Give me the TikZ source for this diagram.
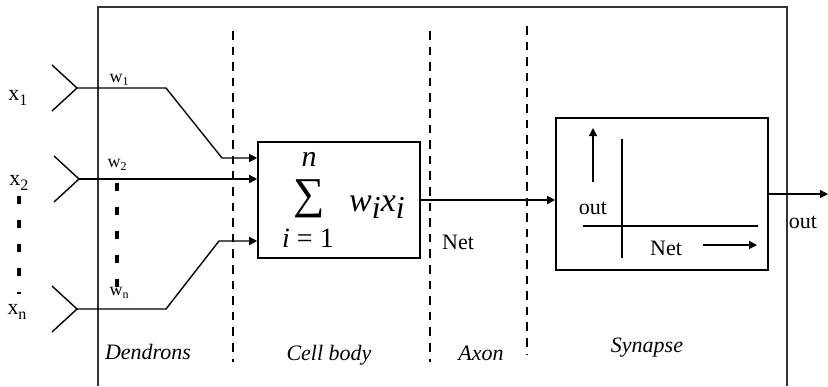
\documentclass[tikz,border=0pt]{standalone}
\usepackage{fontspec}
\setmainfont{Liberation Serif}
\usetikzlibrary{arrows.meta,positioning,calc}
\newcommand{\lowidx}[2][8]{\raisebox{-0.45ex}{\fontsize{#1}{#1}\selectfont #2}}
\tikzset{
  box/.style={draw, line width=0.8pt, inner sep=0pt},
  wire/.style={line width=0.7pt},
  arrow/.style={wire, -{Triangle[length=4pt,width=4pt]}},
  divider/.style={line width=1.3pt, dash pattern=on 4.3pt off 3.5pt},
  dots/.style={line width=2pt, dash pattern=on 4pt off 8pt},
  lbl/.style={font=\fontsize{11}{13}\selectfont, inner sep=0pt},
  part/.style={font=\fontsize{11}{13}\selectfont\itshape, inner sep=0pt},
  wlbl/.style={font=\fontsize{9}{10}\selectfont, inner sep=0pt},
  mathlbl/.style={font=\fontsize{14}{16}\selectfont, inner sep=0pt}
}

\begin{document}
\begin{tikzpicture}[x=0.5pt, y=-0.5pt]
  \useasboundingbox (0,0) rectangle (828,386);
  % outer frame and the four regions
  \draw[line width=0.9pt, black!80] (98,386) -- (98,7) -- (787,7) -- (787,386);
  \draw[divider] (233,31) -- (233,362);
  \draw[divider] (430,31) -- (430,362);
  \draw[divider] (527,26) -- (527,354);

  \node[box, minimum width=81pt, minimum height=58pt] (cell) at (339,200) {};
  \node[box, minimum width=106pt, minimum height=76pt] (syn) at (662,194) {};

  % summation
  \node[font=\fontsize{22}{22}\selectfont, inner sep=0pt] (sigma) at (309,199) {∑};
  \node[mathlbl, font=\fontsize{15}{15}\selectfont] (upper) at (309,159) {\textit{n}};
  \node[mathlbl] (lower) at (308,238) {\textit{i} = 1};
  \node[mathlbl, font=\fontsize{17}{19}\selectfont] (term) at (377,207) {\textit{w}\lowidx[16]{\textit{i}}\textit{x}\lowidx[16]{\textit{i}}};

  % inputs
  \coordinate (a1) at (77,88);
  \coordinate (b1) at (166,88);
  \coordinate (c1) at (222,158);
  \coordinate (a2) at (79,179);
  \coordinate (an) at (77,309);
  \coordinate (bn) at (166,309);
  \coordinate (cn) at (219,241);
  \foreach \a in {a1,a2,an}
    \draw[wire] ([shift={(-25,-23)}]\a) -- (\a) -- ([shift={(-25,23)}]\a);

  \node[lbl] (x1) at (18,98) {x\lowidx{1}};
  \node[lbl] (x2) at (19,183) {x\lowidx{2}};
  \node[lbl] (xn) at (17,312) {x\lowidx{n}};
  \node[wlbl] (w1) at (119,80) {w\lowidx[6]{1}};
  \node[wlbl] (w2) at (117,165) {w\lowidx[6]{2}};
  \node[wlbl] (wn) at (119,293) {w\lowidx[6]{n}};
  \draw[dots] (19,196) -- (19,294);
  \draw[dots] (117,183) -- (117,287);

  \draw[arrow] (a1) -- (b1) -- (c1) -- (c1 -| cell.west);
  \draw[arrow] (a2) -- (a2 -| cell.west);
  \draw[arrow] (an) -- (bn) -- (cn) -- (cn -| cell.west);

  % axon and synapse
  \draw[arrow] (cell.east) -- (cell.east -| syn.west);
  \node[lbl] (net) at (458,242) {Net};

  \draw[arrow] (593,182) -- (593,128);
  \draw[wire] (622,139) -- (622,258);
  \draw[wire] (583,226) -- (758,226);
  \node[lbl] (yaxis) at (593,208) {out};
  \node[lbl] (xaxis) at (666,248) {Net};
  \draw[arrow] (703,245) -- (757,245);

  \coordinate (outend) at (828,194);
  \draw[arrow] (syn.east) -- (outend);
  \node[lbl] (out) at (803,222) {out};

  % region names
  \node[part] (dend) at (148,352) {Dendrons};
  \node[part] (body) at (329,355) {Cell body};
  \node[part] (axon) at (481,353) {Axon};
  \node[part] (synapse) at (647,348) {Synapse};
\end{tikzpicture}
\end{document}
